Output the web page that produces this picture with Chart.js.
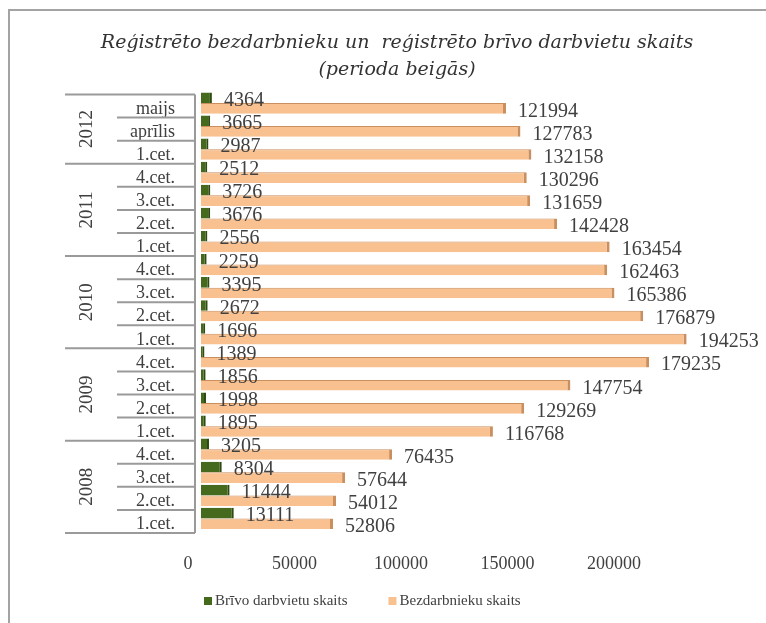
<!DOCTYPE html>
<html>
<head>
<meta charset="utf-8">
<script src="https://cdn.jsdelivr.net/npm/chart.js@4"></script>
<style>
  body { margin: 0; background: #fff; }
  #wrap { position: relative; width: 766px; height: 623px; overflow: hidden; }
  #frame { position: absolute; left: 8px; top: 9px; width: 900px; height: 800px;
           border-left: 2px solid #a3a3a3; border-top: 2px solid #a3a3a3; }
  canvas { position: absolute; left: 0; top: 0; }
</style>
</head>
<body>
<div id="wrap">
  <div id="frame"></div>
  <canvas id="barChart" width="766" height="623"></canvas>
</div>
<script>
// virsraksts
const titleLines = ['Reģistrēto bezdarbnieku un  reģistrēto brīvo darbvietu skaits', '(perioda beigās)'];

// periodi no augšas uz leju
const periods = ['maijs', 'aprīlis', '1.cet.',
  '4.cet.', '3.cet.', '2.cet.', '1.cet.',
  '4.cet.', '3.cet.', '2.cet.', '1.cet.',
  '4.cet.', '3.cet.', '2.cet.', '1.cet.',
  '4.cet.', '3.cet.', '2.cet.', '1.cet.'];
const years = ['2012', '2011', '2010', '2009', '2008'];
const periodsPerYear = [3, 4, 4, 4, 4];

const vacancies = [4364, 3665, 2987, 2512, 3726, 3676, 2556, 2259, 3395, 2672, 1696,
  1389, 1856, 1998, 1895, 3205, 8304, 11444, 13111];
const unemployed = [121994, 127783, 132158, 130296, 131659, 142428, 163454, 162463, 165386, 176879, 194253,
  179235, 147754, 129269, 116768, 76435, 57644, 54012, 52806];

const xTicks = [0, 50000, 100000, 150000, 200000];

const serif = '"Liberation Serif", "Times New Roman", serif';
const textColor = '#404040';
const lineColor = '#9a9a9a';

// virsraksts
const titlePlugin = {
  id: 'titleText',
  afterDraw(chart) {
    const ctx = chart.ctx;
    ctx.save();
    ctx.font = 'italic 19px "DejaVu Serif", serif';
    ctx.fillStyle = '#333';
    ctx.textAlign = 'center';
    ctx.textBaseline = 'middle';
    titleLines.forEach((t, i) => ctx.fillText(t, 397, 43 + i * 27));
    ctx.restore();
  }
};

// leģenda apakšā (pašu zīmēta)
const legendPlugin = {
  id: 'manualLegend',
  afterDraw(chart) {
    const ctx = chart.ctx;
    ctx.save();
    ctx.font = '15px ' + serif;
    ctx.textAlign = 'left';
    ctx.textBaseline = 'middle';
    let x = 204;
    const y = 601;
    chart.data.datasets.forEach(ds => {
      ctx.fillStyle = ds.backgroundColor;
      ctx.fillRect(x, y - 4, 8, 8);
      ctx.fillStyle = textColor;
      ctx.fillText(ds.label, x + 11, y);
      x += 11 + ctx.measureText(ds.label).width + 41;
    });
    ctx.restore();
  }
};

// gadu grupas un līnijas pa kreisi
const groupPlugin = {
  id: 'yearGroups',
  afterDraw(chart) {
    const ctx = chart.ctx;
    const y = chart.scales.y;
    const step = y.getPixelForValue(1) - y.getPixelForValue(0);
    const edge = i => y.getPixelForValue(i) - step / 2 + 3;
    ctx.save();
    ctx.strokeStyle = lineColor;
    ctx.lineWidth = 2;
    const yearStarts = [];
    let n = 0;
    periodsPerYear.forEach(c => { yearStarts.push(n); n += c; });
    for (let i = 0; i <= periods.length; i++) {
      const isYear = i === periods.length || yearStarts.includes(i);
      ctx.beginPath();
      ctx.moveTo(isYear ? 65 : 117, edge(i));
      ctx.lineTo(195, edge(i));
      ctx.stroke();
    }
    ctx.beginPath();
    ctx.moveTo(195, edge(0));
    ctx.lineTo(195, edge(periods.length));
    ctx.stroke();

    ctx.fillStyle = textColor;
    ctx.font = '19px ' + serif;
    ctx.textAlign = 'center';
    ctx.textBaseline = 'middle';
    years.forEach((yr, k) => {
      const mid = (edge(yearStarts[k]) + edge(yearStarts[k] + periodsPerYear[k])) / 2;
      ctx.save();
      ctx.translate(87, mid);
      ctx.rotate(-Math.PI / 2);
      ctx.fillText(yr, 0, 0);
      ctx.restore();
    });
    ctx.restore();
  }
};

// vērtības pie stabiņiem
const valuePlugin = {
  id: 'values',
  afterDatasetsDraw(chart) {
    const ctx = chart.ctx;
    ctx.save();
    ctx.font = '20px ' + serif;
    ctx.fillStyle = textColor;
    ctx.textAlign = 'left';
    ctx.textBaseline = 'middle';
    chart.data.datasets.forEach((ds, d) => {
      chart.getDatasetMeta(d).data.forEach((bar, i) => {
        ctx.fillText(ds.data[i], bar.x + 12, bar.y + 3);
      });
    });
    ctx.restore();
  }
};

const ctx = document.getElementById('barChart').getContext('2d');
const barChart = new Chart(ctx, {
  type: 'bar',
  data: {
    labels: periods,
    datasets: [{
      label: 'Brīvo darbvietu skaits',
      data: vacancies,
      backgroundColor: '#456a1e',
      borderColor: '#2f4a12',
      borderWidth: { top: 0, right: 2, bottom: 0, left: 0 },
      borderSkipped: false
    }, {
      label: 'Bezdarbnieku skaits',
      data: unemployed,
      backgroundColor: '#f9c090',
      borderColor: '#c98f5e',
      borderWidth: { top: 1, right: 3, bottom: 0, left: 0 },
      borderSkipped: false
    }]
  },
  options: {
    indexAxis: 'y',
    responsive: false,
    animation: false,
    categoryPercentage: 0.92,
    barPercentage: 1,
    layout: { padding: { left: 0, right: 45.5, top: 91.5, bottom: 45 } },
    scales: {
      x: { type: 'linear', min: -5200, max: 207800, display: false },
      xt: {
        type: 'linear', position: 'bottom', min: 0, max: 250000,
        afterBuildTicks: s => { s.ticks = xTicks.map(v => ({ value: v })); },
        afterFit: s => { s.height = 48; },
        grid: { display: false, drawTicks: false },
        border: { display: false },
        ticks: { font: { family: serif, size: 18 }, color: textColor, padding: 23, maxRotation: 0,
          callback: v => String(v) }
      },
      y: {
        afterFit: s => { s.width = 188; },
        grid: { display: false, drawTicks: false },
        border: { display: false },
        ticks: { font: { family: serif, size: 18 }, color: textColor, padding: 13, labelOffset: 6,
          autoSkip: false }
      }
    },
    plugins: {
      legend: { display: false },
      tooltip: { enabled: false }
    }
  },
  plugins: [titlePlugin, legendPlugin, groupPlugin, valuePlugin]
});
</script>
</body>
</html>
